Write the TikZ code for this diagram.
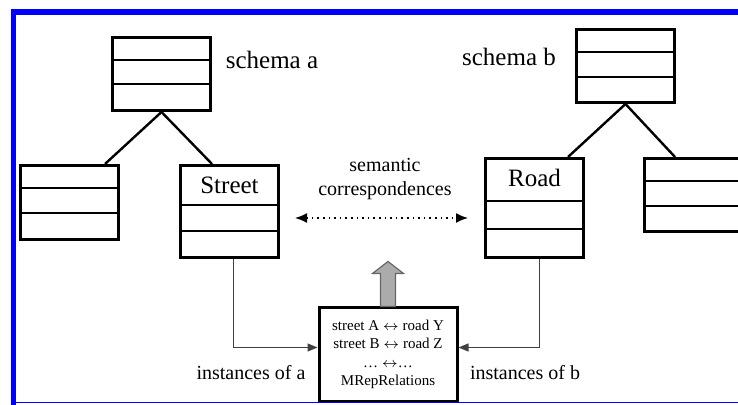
\documentclass[tikz,border=0pt]{standalone}
\usepackage{fontspec}
\setmainfont{Liberation Serif}
\usetikzlibrary{calc,arrows.meta}

\begin{document}
\begin{tikzpicture}
        [
            x = 0.5pt, y = -0.5pt,
            cls/.style={draw, line width=1.5pt, anchor=north west, inner sep=0pt, minimum width=49pt},
            divider/.style={line width=1pt},
            branch/.style={line width=1.2pt},
            big/.style={font=\fontsize{12.5}{15}\selectfont},
            lbl/.style={font=\fontsize{10}{12}\selectfont},
            inst/.style={draw=black!75, line width=0.6pt, -{Triangle[length=5pt,width=4pt]}},
        ]
        \useasboundingbox (0,0) rectangle (738,405);

        \node[cls, minimum height=36.5pt] (sa) at (111,36) {};
        \node[cls, minimum height=37pt] (saleft) at (19,164) {};
        \node[cls, minimum height=46pt] (street) at (179,164) {};
        \node[cls, minimum height=36.5pt] (sb) at (575,28) {};
        \node[cls, minimum height=49.5pt] (road) at (484,157) {};
        \node[cls, minimum height=36.5pt] (sbright) at (643,157) {};

        \foreach \n/\a/\b in {sa/24/48, saleft/24/49, street/41/67, sb/24/49, road/44/72, sbright/24/49}
        {
            \draw[divider] ($(\n.north west)+(0,\a)$) -- ($(\n.north east)+(0,\a)$);
            \draw[divider] ($(\n.north west)+(0,\b)$) -- ($(\n.north east)+(0,\b)$);
        }

        \draw[branch] (sa.south) -- ($(saleft.north west)+(86,0)$);
        \draw[branch] (sa.south) -- ($(street.north west)+(33,0)$);
        \draw[branch] (sb.south) -- ($(road.north west)+(84,0)$);
        \draw[branch] (sb.south) -- ($(sbright.north west)+(32,0)$);

        \node[big] (saname) at (272,60) {schema a};
        \node[big] (sbname) at (509,57) {schema b};
        \node[big] (streetname) at ($(street.north)+(0,21)$) {Street};
        \node[big] (roadname) at ($(road.north)+(0,21)$) {Road};

        \node[lbl, align=center] (semcorr) at (385,179) {semantic\\correspondences};
        \coordinate (corrleft) at (295,218);
        \coordinate (corrright) at (468,218);
        \draw[dotted, line width=0.8pt, {Latex[length=6pt,width=5pt]}-{Latex[length=6pt,width=5pt]}] (corrleft) -- (corrright);

        \node[draw, line width=1.5pt, minimum width=69pt, minimum height=46.5pt, align=center,
            font=\fontsize{7.5}{9.25}\selectfont] (mrep) at (388,354.5)
            {street A $\leftrightarrow$ road Y\\street B $\leftrightarrow$ road Z\\\ldots\ $\leftrightarrow$\ldots\\MRepRelations};

        \draw[fill=black!33, draw=black!60, line width=0.6pt] ($(mrep.north)+(-7.5,0)$) -- ++(0,-33) -- ++(-8,0)
            -- ++(15.5,-12) -- ++(15.5,12) -- ++(-8,0) -- ++(0,33) -- cycle;

        \draw[inst] ($(street.south)+(4,0)$) |- ($(mrep.west)+(0,-7)$);
        \draw[inst] ($(road.south)+(5,0)$) |- ($(mrep.east)+(0,-7)$);
        \node[lbl] (insta) at (251,373) {instances of a};
        \node[lbl] (instb) at (525,373) {instances of b};

        \draw[blue, line width=2.8pt] (738,12) -- (13.5,12) -- (13.5,405);
        \draw[blue, line width=0.6pt] (12,402.5) -- (738,402.5);
    \end{tikzpicture}
\end{document}
